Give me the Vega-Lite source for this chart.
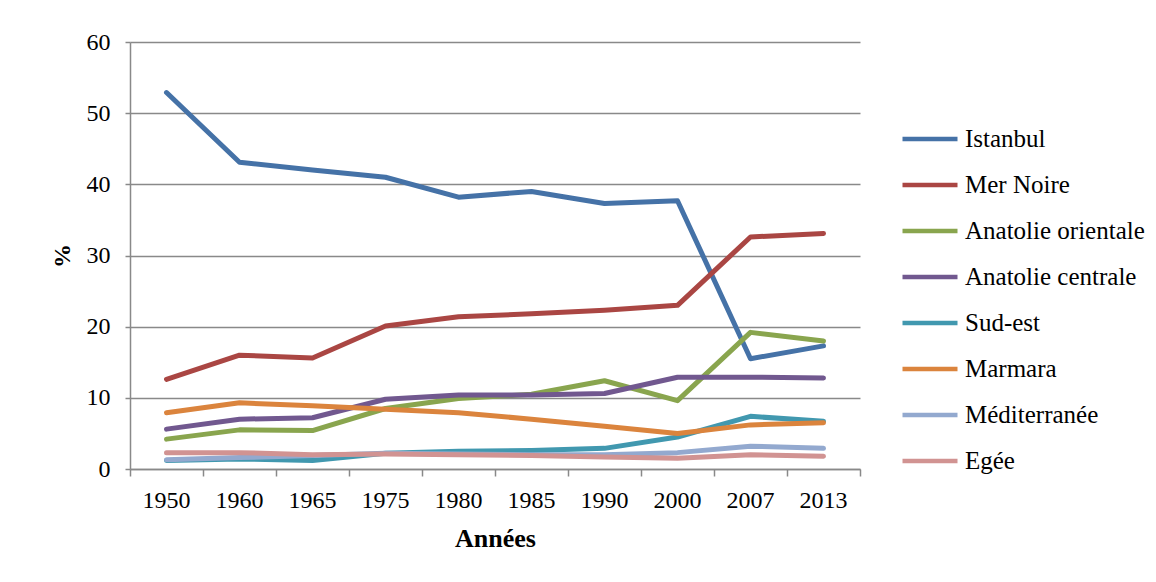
{
  "$schema": "https://vega.github.io/schema/vega-lite/v6.json",
  "autosize": "none",
  "padding": {"left": 130, "top": 42, "right": 296, "bottom": 113},
  "width": 730,
  "height": 427,
  "background": "white",
  "config": {
    "font": "Liberation Serif",
    "view": {"stroke": null},
    "axis": {"labelFont": "Liberation Serif", "titleFont": "Liberation Serif", "labelColor": "black", "titleColor": "black"},
    "legend": {"labelFont": "Liberation Serif", "titleFont": "Liberation Serif", "labelColor": "black"}
  },
  "data": {
    "values": [
      {"year": "1950", "region": "Istanbul", "value": 52.9},
      {"year": "1960", "region": "Istanbul", "value": 43.1},
      {"year": "1965", "region": "Istanbul", "value": 42.0},
      {"year": "1975", "region": "Istanbul", "value": 41.0},
      {"year": "1980", "region": "Istanbul", "value": 38.2},
      {"year": "1985", "region": "Istanbul", "value": 39.0},
      {"year": "1990", "region": "Istanbul", "value": 37.3},
      {"year": "2000", "region": "Istanbul", "value": 37.7},
      {"year": "2007", "region": "Istanbul", "value": 15.5},
      {"year": "2013", "region": "Istanbul", "value": 17.3},
      {"year": "1950", "region": "Mer Noire", "value": 12.6},
      {"year": "1960", "region": "Mer Noire", "value": 16.0},
      {"year": "1965", "region": "Mer Noire", "value": 15.6},
      {"year": "1975", "region": "Mer Noire", "value": 20.1},
      {"year": "1980", "region": "Mer Noire", "value": 21.4},
      {"year": "1985", "region": "Mer Noire", "value": 21.8},
      {"year": "1990", "region": "Mer Noire", "value": 22.3},
      {"year": "2000", "region": "Mer Noire", "value": 23.0},
      {"year": "2007", "region": "Mer Noire", "value": 32.6},
      {"year": "2013", "region": "Mer Noire", "value": 33.1},
      {"year": "1950", "region": "Anatolie orientale", "value": 4.2},
      {"year": "1960", "region": "Anatolie orientale", "value": 5.5},
      {"year": "1965", "region": "Anatolie orientale", "value": 5.4},
      {"year": "1975", "region": "Anatolie orientale", "value": 8.5},
      {"year": "1980", "region": "Anatolie orientale", "value": 9.9},
      {"year": "1985", "region": "Anatolie orientale", "value": 10.5},
      {"year": "1990", "region": "Anatolie orientale", "value": 12.4},
      {"year": "2000", "region": "Anatolie orientale", "value": 9.6},
      {"year": "2007", "region": "Anatolie orientale", "value": 19.2},
      {"year": "2013", "region": "Anatolie orientale", "value": 18.0},
      {"year": "1950", "region": "Anatolie centrale", "value": 5.6},
      {"year": "1960", "region": "Anatolie centrale", "value": 7.0},
      {"year": "1965", "region": "Anatolie centrale", "value": 7.2},
      {"year": "1975", "region": "Anatolie centrale", "value": 9.8},
      {"year": "1980", "region": "Anatolie centrale", "value": 10.4},
      {"year": "1985", "region": "Anatolie centrale", "value": 10.4},
      {"year": "1990", "region": "Anatolie centrale", "value": 10.6},
      {"year": "2000", "region": "Anatolie centrale", "value": 12.9},
      {"year": "2007", "region": "Anatolie centrale", "value": 12.9},
      {"year": "2013", "region": "Anatolie centrale", "value": 12.8},
      {"year": "1950", "region": "Sud-est", "value": 1.2},
      {"year": "1960", "region": "Sud-est", "value": 1.4},
      {"year": "1965", "region": "Sud-est", "value": 1.2},
      {"year": "1975", "region": "Sud-est", "value": 2.2},
      {"year": "1980", "region": "Sud-est", "value": 2.5},
      {"year": "1985", "region": "Sud-est", "value": 2.6},
      {"year": "1990", "region": "Sud-est", "value": 2.9},
      {"year": "2000", "region": "Sud-est", "value": 4.5},
      {"year": "2007", "region": "Sud-est", "value": 7.4},
      {"year": "2013", "region": "Sud-est", "value": 6.7},
      {"year": "1950", "region": "Marmara", "value": 7.9},
      {"year": "1960", "region": "Marmara", "value": 9.3},
      {"year": "1965", "region": "Marmara", "value": 8.9},
      {"year": "1975", "region": "Marmara", "value": 8.4},
      {"year": "1980", "region": "Marmara", "value": 7.9},
      {"year": "1985", "region": "Marmara", "value": 7.0},
      {"year": "1990", "region": "Marmara", "value": 6.0},
      {"year": "2000", "region": "Marmara", "value": 5.0},
      {"year": "2007", "region": "Marmara", "value": 6.2},
      {"year": "2013", "region": "Marmara", "value": 6.5},
      {"year": "1950", "region": "Méditerranée", "value": 1.3},
      {"year": "1960", "region": "Méditerranée", "value": 1.6},
      {"year": "1965", "region": "Méditerranée", "value": 1.9},
      {"year": "1975", "region": "Méditerranée", "value": 2.2},
      {"year": "1980", "region": "Méditerranée", "value": 2.1},
      {"year": "1985", "region": "Méditerranée", "value": 2.0},
      {"year": "1990", "region": "Méditerranée", "value": 2.0},
      {"year": "2000", "region": "Méditerranée", "value": 2.3},
      {"year": "2007", "region": "Méditerranée", "value": 3.2},
      {"year": "2013", "region": "Méditerranée", "value": 2.9},
      {"year": "1950", "region": "Egée", "value": 2.3},
      {"year": "1960", "region": "Egée", "value": 2.3},
      {"year": "1965", "region": "Egée", "value": 2.0},
      {"year": "1975", "region": "Egée", "value": 2.1},
      {"year": "1980", "region": "Egée", "value": 2.0},
      {"year": "1985", "region": "Egée", "value": 1.9},
      {"year": "1990", "region": "Egée", "value": 1.7},
      {"year": "2000", "region": "Egée", "value": 1.5},
      {"year": "2007", "region": "Egée", "value": 2.0},
      {"year": "2013", "region": "Egée", "value": 1.8}
    ]
  },
  "mark": {"type": "line", "strokeWidth": 5, "strokeCap": "round", "strokeJoin": "round"},
  "encoding": {
    "x": {
      "field": "year",
      "type": "ordinal",
      "scale": {"type": "band", "paddingInner": 0, "paddingOuter": 0},
      "axis": {
        "title": "Années",
        "titleFontSize": 26,
        "titleFontWeight": "bold",
        "titlePadding": 13,
        "labelFontSize": 24,
        "labelAngle": 0,
        "labelPadding": 12,
        "bandPosition": 1,
        "tickExtra": true,
        "tickSize": 7,
        "tickColor": "#898989",
        "tickWidth": 1.5,
        "domainColor": "#898989",
        "domainWidth": 1.5,
        "grid": false
      }
    },
    "y": {
      "field": "value",
      "type": "quantitative",
      "scale": {"domain": [0, 60], "nice": false},
      "axis": {
        "title": "%",
        "titleFontSize": 24,
        "titleFontWeight": "bold",
        "titlePadding": 12,
        "values": [0, 10, 20, 30, 40, 50, 60],
        "labelFontSize": 24,
        "labelPadding": 15,
        "tickSize": 5,
        "tickColor": "#898989",
        "tickWidth": 1.5,
        "domainColor": "#898989",
        "domainWidth": 1.5,
        "grid": true,
        "gridColor": "#898989",
        "gridWidth": 1.5
      }
    },
    "color": {
      "field": "region",
      "type": "nominal",
      "scale": {
        "domain": ["Istanbul", "Mer Noire", "Anatolie orientale", "Anatolie centrale", "Sud-est", "Marmara", "Méditerranée", "Egée"],
        "range": ["#4572A7", "#AA4643", "#89A54E", "#71588F", "#4198AF", "#DB843D", "#93A9CF", "#D19392"]
      },
      "legend": {
        "title": null,
        "orient": "none",
        "legendX": 770,
        "legendY": 74,
        "symbolType": "stroke",
        "symbolSize": 3025,
        "symbolStrokeWidth": 4.5,
        "clipHeight": 46,
        "rowPadding": 0,
        "labelFontSize": 25,
        "labelOffset": 5,
        "labelLimit": 300
      }
    }
  }
}
